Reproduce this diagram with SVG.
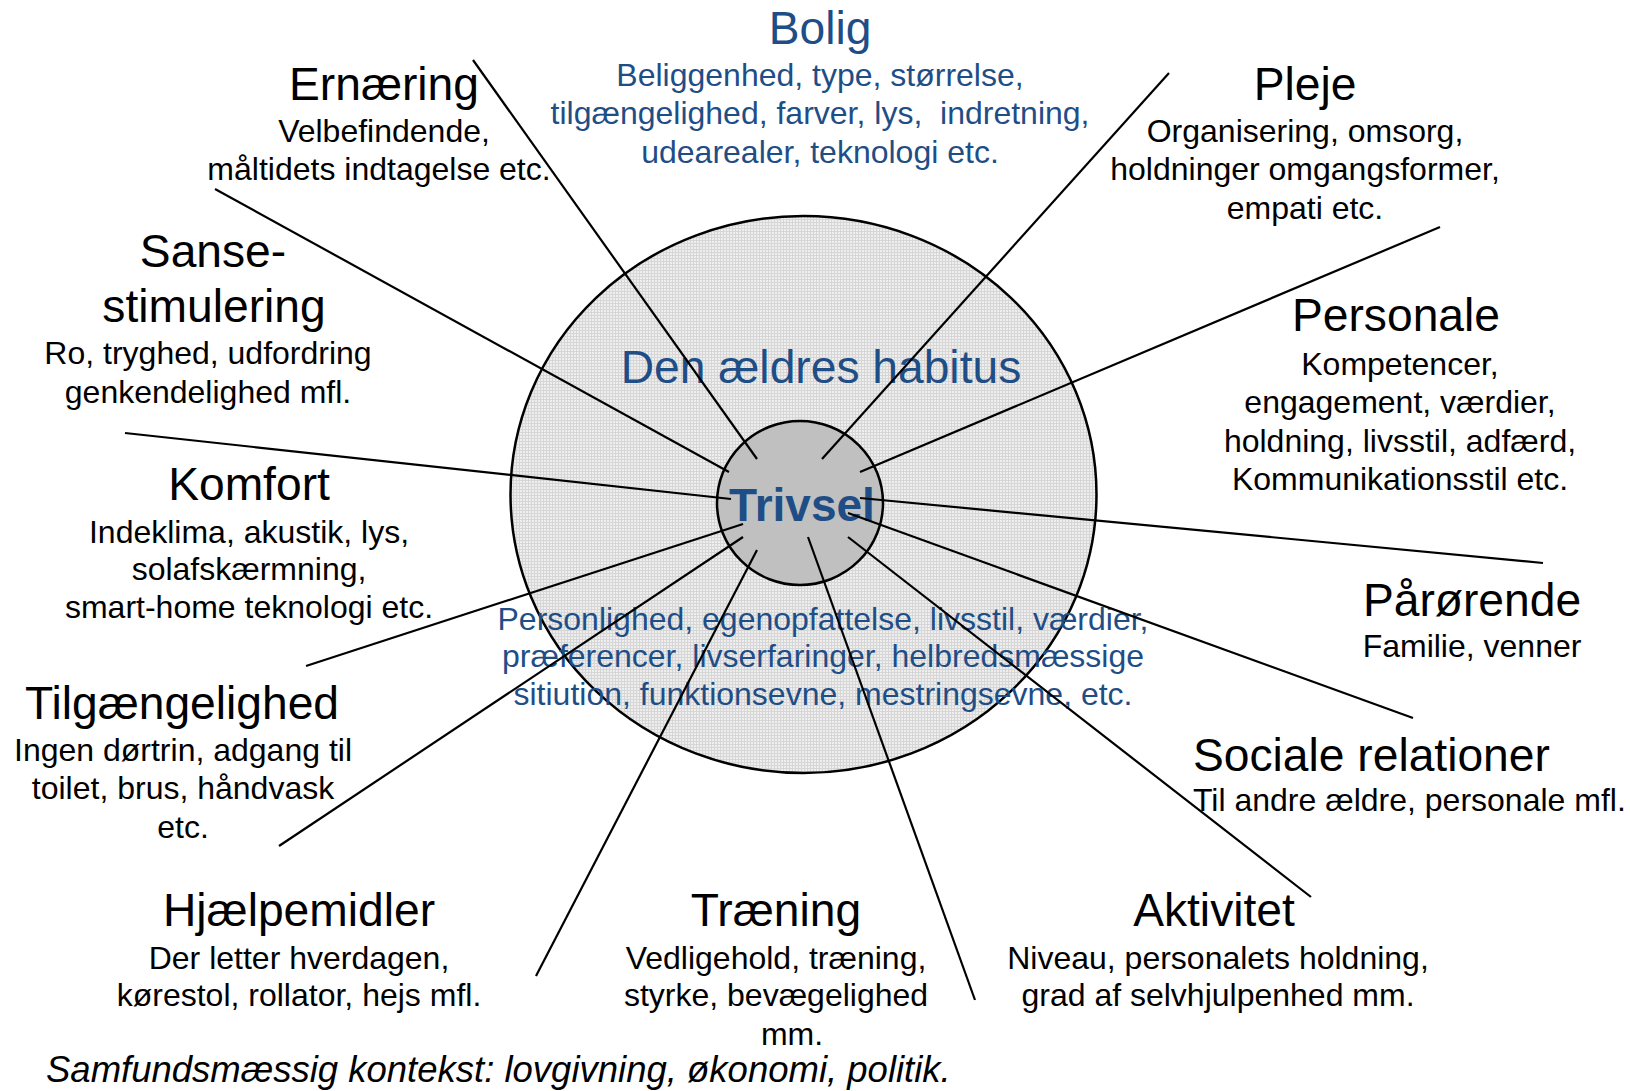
<svg xmlns="http://www.w3.org/2000/svg" width="1630" height="1091" viewBox="0 0 1630 1091">
  <defs>
    <!-- fine grid fill for the outer ring -->
    <pattern id="grid" width="3" height="3" patternUnits="userSpaceOnUse">
      <rect width="3" height="3" fill="#EEEEEE"/>
      <path d="M0 0.5H3M0.5 0V3" stroke="#D6D6D6" stroke-width="1"/>
    </pattern>
  </defs>
  <style>
    text { font-family: "Liberation Sans", Arial, sans-serif; text-anchor: middle; }
    .t  { font-size: 46.2px; fill: #000; }
    .b  { font-size: 32px; fill: #000; }
    .tb { font-size: 46.2px; fill: #1F4E86; }
    .bb { font-size: 32px; fill: #1F4E86; }
    .st { text-anchor: start; }
    .ring { stroke: #000; stroke-width: 2.5; }
    .spoke { stroke: #000; stroke-width: 2.2; stroke-linecap: butt; }
  </style>
  <rect width="1630" height="1091" fill="#FFFFFF"/>

  <!-- outer ring: the elder's habitus -->
  <g id="habitus">
    <ellipse class="ring" cx="803.5" cy="494.5" rx="293" ry="278.5" fill="url(#grid)"/>
    <text class="tb" x="821" y="383">Den ældres habitus</text>
    <text class="bb" x="823" y="629.5">Personlighed, egenopfattelse, livsstil, værdier,</text>
    <text class="bb" x="823" y="666.5">præferencer, livserfaringer, helbredsmæssige</text>
    <text class="bb" x="823" y="704.5">sitiution, funktionsevne, mestringsevne, etc.</text>
  </g>

  <!-- inner circle: well-being -->
  <g id="trivsel">
    <ellipse class="ring" cx="800" cy="503" rx="83" ry="82" fill="#C0C0C0"/>
    <text x="802" y="521" style="font-size:46px;font-weight:bold;fill:#1F4E86">Trivsel</text>
  </g>

  <g id="bolig">
    <text class="tb" x="820" y="44">Bolig</text>
    <text class="bb" x="820" y="86">Beliggenhed, type, størrelse,</text>
    <text class="bb" x="820" y="124" style="white-space:pre">tilgængelighed, farver, lys,  indretning,</text>
    <text class="bb" x="820" y="163">udearealer, teknologi etc.</text>
  </g>

  <g id="ernaering">
    <text class="t" x="384" y="100">Ernæring</text>
    <text class="b" x="384" y="142">Velbefindende,</text>
    <text class="b" x="379" y="180">måltidets indtagelse etc.</text>
  </g>

  <g id="pleje">
    <text class="t" x="1305" y="100">Pleje</text>
    <text class="b" x="1305" y="142">Organisering, omsorg,</text>
    <text class="b" x="1305" y="180">holdninger omgangsformer,</text>
    <text class="b" x="1305" y="219">empati etc.</text>
  </g>

  <g id="sansestimulering">
    <text class="t" x="213" y="267">Sanse-</text>
    <text class="t" x="214" y="322">stimulering</text>
    <text class="b" x="208" y="364">Ro, tryghed, udfordring</text>
    <text class="b" x="208" y="403">genkendelighed mfl.</text>
  </g>

  <g id="personale">
    <text class="t" x="1396" y="331">Personale</text>
    <text class="b" x="1400" y="374.5">Kompetencer,</text>
    <text class="b" x="1400" y="412.5">engagement, værdier,</text>
    <text class="b" x="1400" y="451.5">holdning, livsstil, adfærd,</text>
    <text class="b" x="1400" y="489.5">Kommunikationsstil etc.</text>
  </g>

  <g id="komfort">
    <text class="t" x="249" y="500">Komfort</text>
    <text class="b" x="249" y="543">Indeklima, akustik, lys,</text>
    <text class="b" x="249" y="580">solafskærmning,</text>
    <text class="b" x="249" y="618">smart-home teknologi etc.</text>
  </g>

  <g id="paaroerende">
    <text class="t" x="1472" y="616">Pårørende</text>
    <text class="b" x="1472" y="657">Familie, venner</text>
  </g>

  <g id="tilgaengelighed">
    <text class="t" x="182" y="719">Tilgængelighed</text>
    <text class="b" x="183" y="761">Ingen dørtrin, adgang til</text>
    <text class="b" x="183" y="799">toilet, brus, håndvask</text>
    <text class="b" x="183" y="838">etc.</text>
  </g>

  <g id="sociale-relationer">
    <text class="t st" x="1193" y="771">Sociale relationer</text>
    <text class="b st" x="1193" y="811">Til andre ældre, personale mfl.</text>
  </g>

  <g id="hjaelpemidler">
    <text class="t" x="299" y="926">Hjælpemidler</text>
    <text class="b" x="299" y="969">Der letter hverdagen,</text>
    <text class="b" x="299" y="1006">kørestol, rollator, hejs mfl.</text>
  </g>

  <g id="traening">
    <text class="t" x="776" y="926">Træning</text>
    <text class="b" x="776" y="969">Vedligehold, træning,</text>
    <text class="b" x="776" y="1006">styrke, bevægelighed</text>
    <text class="b" x="792" y="1045">mm.</text>
  </g>

  <g id="aktivitet">
    <text class="t" x="1214" y="926">Aktivitet</text>
    <text class="b" x="1218" y="969">Niveau, personalets holdning,</text>
    <text class="b" x="1218" y="1006">grad af selvhjulpenhed mm.</text>
  </g>

  <g id="kontekst">
    <text class="st" x="46" y="1082" style="font-size:36.5px;font-style:italic;fill:#000">Samfundsmæssig kontekst: lovgivning, økonomi, politik.</text>
  </g>

  <!-- spokes from the centre out to each factor -->
  <g id="connectors" class="spoke">
    <line x1="757" y1="459" x2="473" y2="60"/>
    <line x1="822" y1="459" x2="1169" y2="73"/>
    <line x1="729" y1="472" x2="215" y2="189"/>
    <line x1="860" y1="472" x2="1440" y2="227"/>
    <line x1="731" y1="499" x2="125" y2="433"/>
    <line x1="860" y1="498" x2="1543" y2="563"/>
    <line x1="848" y1="513" x2="1413" y2="718"/>
    <line x1="743" y1="524" x2="306" y2="666"/>
    <line x1="743" y1="537" x2="279" y2="846"/>
    <line x1="757" y1="550" x2="536" y2="976"/>
    <line x1="808" y1="537" x2="975" y2="1000"/>
    <line x1="848" y1="537" x2="1311" y2="897"/>
  </g>
</svg>
